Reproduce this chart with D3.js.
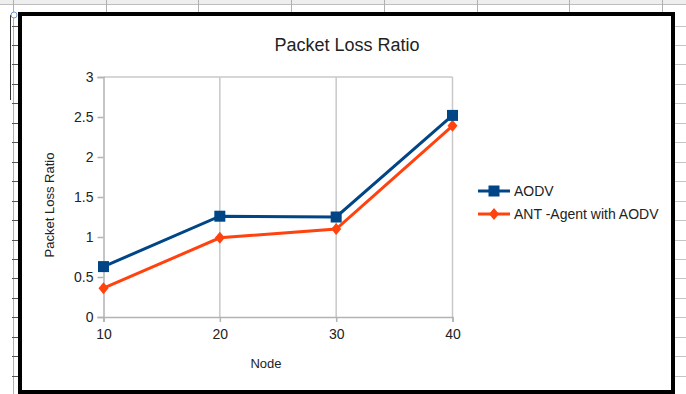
<!DOCTYPE html>
<html>
<head>
<meta charset="utf-8">
<script src="https://cdn.jsdelivr.net/npm/d3@7"></script>
<style>
  body { margin: 0; background: #fff; }
  svg { display: block; font-family: "Liberation Sans", Arial, sans-serif; }
</style>
</head>
<body>
<svg id="chart"></svg>
<script>
  const width = 686;
  const height = 394;

  // data
  const nodes = [10, 20, 30, 40];
  const aodv = [0.63, 1.26, 1.25, 2.52];
  const antAgent = [0.36, 0.99, 1.10, 2.39];
  const yTicks = [0, 0.5, 1, 1.5, 2, 2.5, 3];
  const seriesNames = ["AODV", "ANT -Agent with AODV"];
  const seriesColors = ["#004586", "#ff420e"];

  const svg = d3.select('#chart').attr('width', width).attr('height', height);

  // spreadsheet behind the chart frame
  const bg = svg.append('g');
  bg.append('rect').attr('x', 0).attr('y', 0).attr('width', width).attr('height', 4).attr('fill', '#eeeeee');
  bg.append('line').attr('x1', 0).attr('x2', width).attr('y1', 4.5).attr('y2', 4.5)
    .attr('stroke', '#bdbdbd');
  const colX = d3.range(0, 8).map(i => 13 + i * 92.7);
  bg.selectAll('.col').data(colX).enter().append('line')
    .attr('x1', d => Math.round(d) + 0.5).attr('x2', d => Math.round(d) + 0.5)
    .attr('y1', 0).attr('y2', d => d < 20 ? height : 14)
    .attr('stroke', '#b0b0b0');
  const rowY = d3.range(-2, 18).map(i => 45 + i * 19.45);
  bg.selectAll('.rowl').data(rowY.filter(d => d > 16)).enter().append('line')
    .attr('x1', 12).attr('x2', 19)
    .attr('y1', d => Math.round(d) + 0.5).attr('y2', d => Math.round(d) + 0.5)
    .attr('stroke', '#555');
  bg.selectAll('.rowr').data(rowY.filter(d => d > 16)).enter().append('line')
    .attr('x1', 674).attr('x2', width)
    .attr('y1', d => Math.round(d) + 0.5).attr('y2', d => Math.round(d) + 0.5)
    .attr('stroke', '#c4c4c4');
  bg.append('line').attr('x1', 10.5).attr('x2', 10.5).attr('y1', 15).attr('y2', 100)
    .attr('stroke', '#333');
  bg.append('circle').attr('cx', 14).attr('cy', 15).attr('r', 3)
    .attr('fill', '#fff').attr('stroke', '#6a9fd4');

  // chart frame
  svg.append('rect').attr('x', 20).attr('y', 14).attr('width', 653).attr('height', 378)
    .attr('fill', '#fff').attr('stroke', '#000').attr('stroke-width', 4);

  const x = d3.scaleLinear().domain([10, 40]).range([103.5, 452.5]);
  const y = d3.scaleLinear().domain([0, 3]).range([317, 77]);

  const g = svg.append('g');

  // vertical grid lines and top line
  g.selectAll('.grid').data(nodes.slice(1)).enter().append('line')
    .attr('x1', d => x(d)).attr('x2', d => x(d))
    .attr('y1', y(3)).attr('y2', y(0))
    .attr('stroke', '#c8c8c8').attr('stroke-width', 1.5);
  g.append('line').attr('x1', x(10)).attr('x2', x(40)).attr('y1', y(3)).attr('y2', y(3))
    .attr('stroke', '#c8c8c8').attr('stroke-width', 1.5);

  const yAxis = g.append('g').attr('transform', `translate(${x(10)},0)`)
    .call(d3.axisLeft(y).tickValues(yTicks).tickSize(6).tickPadding(4).tickFormat(d => String(d)));
  const xAxis = g.append('g').attr('transform', `translate(0,${y(0)})`)
    .call(d3.axisBottom(x).tickValues(nodes).tickSize(5).tickPadding(7).tickFormat(d => String(d)));
  [yAxis, xAxis].forEach(a => {
    a.selectAll('path').attr('stroke', '#b3b3b3').attr('stroke-width', 1.5);
    a.selectAll('line').attr('stroke', '#b3b3b3').attr('stroke-width', 1.5);
    a.selectAll('text').attr('fill', '#222').style('font-size', '14px')
      .style('font-family', '"Liberation Sans", Arial, sans-serif');
  });

  const line = d3.line().x((d, i) => x(nodes[i])).y(d => y(d));
  const series = [aodv, antAgent];

  function marker(sel, idx, cx, cy) {
    if (idx === 0) {
      sel.append('rect').attr('x', cx - 5.5).attr('y', cy - 5.5).attr('width', 11).attr('height', 11)
        .attr('fill', seriesColors[0]);
    } else {
      sel.append('path')
        .attr('d', `M${cx},${cy - 6}L${cx + 5},${cy}L${cx},${cy + 6}L${cx - 5},${cy}Z`)
        .attr('fill', seriesColors[1]);
    }
  }

  // draw the orange one first so blue sits on top
  [1, 0].forEach(si => {
    g.append('path').datum(series[si]).attr('d', line)
      .attr('fill', 'none').attr('stroke', seriesColors[si]).attr('stroke-width', 3);
    series[si].forEach((v, i) => marker(g, si, x(nodes[i]), y(v)));
  });

  // titles
  svg.append('text').attr('x', 347).attr('y', 51).attr('text-anchor', 'middle')
    .style('font-size', '18px').attr('fill', '#222').text('Packet Loss Ratio');
  svg.append('text').attr('transform', 'translate(54,205) rotate(-90)').attr('text-anchor', 'middle')
    .style('font-size', '13px').attr('fill', '#222').text('Packet Loss Ratio');
  svg.append('text').attr('x', 266).attr('y', 368).attr('text-anchor', 'middle')
    .style('font-size', '13px').attr('fill', '#222').text('Node');

  // legend
  const legendY = [191, 214];
  seriesNames.forEach((name, i) => {
    const lg = svg.append('g');
    lg.append('line').attr('x1', 478).attr('x2', 510).attr('y1', legendY[i]).attr('y2', legendY[i])
      .attr('stroke', seriesColors[i]).attr('stroke-width', 3);
    marker(lg, i, 494, legendY[i]);
    lg.append('text').attr('x', 514).attr('y', legendY[i]).attr('dy', '0.36em')
      .style('font-size', '14px').attr('fill', '#222').text(name);
  });
</script>
</body>
</html>
